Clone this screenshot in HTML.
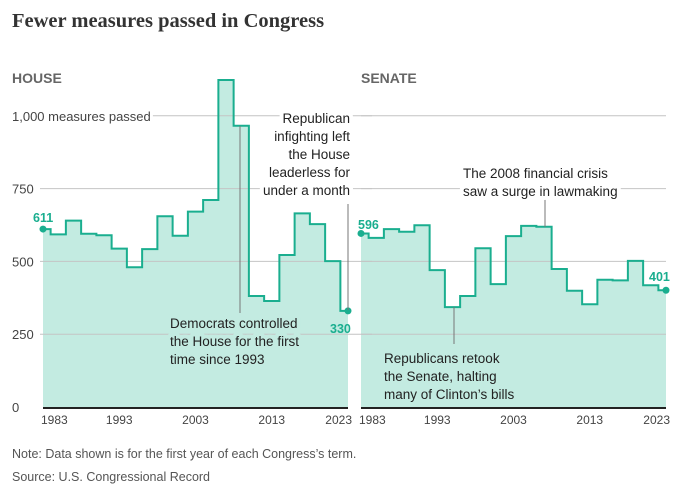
<!DOCTYPE html>
<html><head><meta charset="utf-8"><style>
body{margin:0;background:#fff;}
svg{display:block;font-family:"Liberation Sans",sans-serif;}
</style></head><body>
<svg id="chart" width="688" height="501" viewBox="0 0 688 501">
<text x="12" y="27" font-family="Liberation Serif,serif" font-weight="bold" font-size="20.5" fill="#333">Fewer measures passed in Congress</text>
<text x="12" y="83" font-size="14" font-weight="bold" fill="#666">HOUSE</text>
<text x="361" y="83" font-size="14" font-weight="bold" fill="#666">SENATE</text>
<g id="areas"></g>
<g id="grid"></g>
<g id="marks"></g>
<g id="annot"></g>
<text x="12" y="458" font-size="12.5" fill="#555">Note: Data shown is for the first year of each Congress’s term.</text>
<text x="12" y="481" font-size="12.5" fill="#555">Source: U.S. Congressional Record</text>
</svg>
<script>
const years = [1983,1985,1987,1989,1991,1993,1995,1997,1999,2001,2003,2005,2007,2009,2011,2013,2015,2017,2019,2021,2023];
const houseValues = [611,593,640,595,590,544,480,542,655,588,671,711,1123,966,381,364,522,665,628,501,330];
const senateValues = [596,581,611,602,624,470,343,381,545,422,587,622,619,474,399,353,437,435,502,418,401];
const yTicks = [0,250,500,750,1000];
const yTickLabels = ["0","250","500","750","1,000 measures passed"];
const xTicks = [1983,1993,2003,2013,2023];

const NS="http://www.w3.org/2000/svg";
const TEAL="#1aae8f", FILL="#c3ebe1";
function el(tag,attrs,parent,text){const e=document.createElementNS(NS,tag);for(const k in attrs)e.setAttribute(k,attrs[k]);if(text!==undefined)e.textContent=text;parent.appendChild(e);return e;}
const y=v=>407-v*0.2912;
const panels=[{x0:43,x1:348,vals:houseValues,name:"house"},{x0:361,x1:666,vals:senateValues,name:"senate"}];
const areas=document.getElementById('areas'), grid=document.getElementById('grid'), marks=document.getElementById('marks'), annot=document.getElementById('annot');

panels.forEach((p,pi)=>{
  const x=yr=>p.x0+(yr-years[0])/(years[years.length-1]-years[0])*(p.x1-p.x0);
  const half=(x(years[1])-x(years[0]))/2;
  let d=`M${x(years[0])},${y(p.vals[0])}`;
  years.forEach((yr,i)=>{
    const xs=i===0?x(yr):x(yr)-half, xe=i===years.length-1?x(yr):x(yr)+half;
    d+=` L${xs},${y(p.vals[i])} L${xe},${y(p.vals[i])}`;
  });
  const area=el('path',{d:d+` L${p.x1},${y(0)} L${p.x0},${y(0)} Z`,fill:FILL},areas);
  
  
  yTicks.forEach((t,i)=>{
    if(t===0)return;
    const gl=el('line',{x1:p.x0-(pi===0?3:0),x2:p.x1+(pi===0?24:0),y1:y(t),y2:y(t),stroke:"#c4c4c4","stroke-width":1},grid);
    
    
  });
  const line=el('path',{d:d,fill:"none",stroke:TEAL,"stroke-width":2},marks);
  
  
  [0,years.length-1].forEach(i=>{
    const c=el('circle',{cx:x(years[i]),cy:y(p.vals[i]),r:3.5,fill:TEAL},marks);
    
    
  });
  const base=el('line',{x1:p.x0,x2:p.x1,y1:y(0)+1,y2:y(0)+1,stroke:"#222","stroke-width":2},marks);
  
  
  xTicks.forEach((t,i)=>{
    const anchor=i===0?"start":(i===xTicks.length-1?"end":"middle");
    const xt=x(t)+(i===0?-2:(i===xTicks.length-1?4:0));
    const tl=el('text',{x:xt,y:424,"font-size":12,fill:"#444","text-anchor":anchor},marks,String(t));
    
    
  });
  const lblFirst=el('text',{x:pi===0?33:358,y:pi===0?222:229,"font-size":12.5,"font-weight":"bold",fill:TEAL},marks,String(p.vals[0]));
  
  
  const last=p.vals[p.vals.length-1];
  const lblLast=el('text',{x:pi===0?330:649,y:pi===0?333:281,"font-size":12.5,"font-weight":"bold",fill:TEAL},marks,String(last));
  
  
});
yTicks.forEach((t,i)=>{
  const lab=el('text',{x:12,y:y(t)+5,"font-size":13,fill:"#444",stroke:"#fff","stroke-width":6,"paint-order":"stroke"},grid,yTickLabels[i]);
  
  
});
function note(lines,xp,y0,anchor,name,bg){
  const g=el('g',{},annot);
  
  
  lines.forEach((s,i)=>el('text',{x:xp,y:y0+i*18,"font-size":13.5,fill:"#222","text-anchor":anchor,stroke:bg,"stroke-width":8,"paint-order":"stroke","stroke-linejoin":"round"},g,s));
}
function leader(x,y1,y2,name){
  const l=el('line',{x1:x,x2:x,y1:y1,y2:y2,stroke:"#777","stroke-width":1},annot);
  
  
}
leader(240,126,313,'democrats-leader-line');
note(["Democrats controlled","the House for the first","time since 1993"],170,328,"start",'democrats-annotation',FILL);
leader(348,204,310,'republican-leader-line');
note(["Republican","infighting left","the House","leaderless for","under a month"],350,123,"end",'republican-infighting-annotation',"#fff");
leader(545,199,227,'financial-crisis-leader-line');
note(["The 2008 financial crisis","saw a surge in lawmaking"],463,178,"start",'financial-crisis-annotation',"#fff");
leader(454,307,344,'senate-retook-leader-line');
note(["Republicans retook","the Senate, halting","many of Clinton’s bills"],384,363,"start",'senate-retook-annotation',FILL);
</script>
</body></html>
